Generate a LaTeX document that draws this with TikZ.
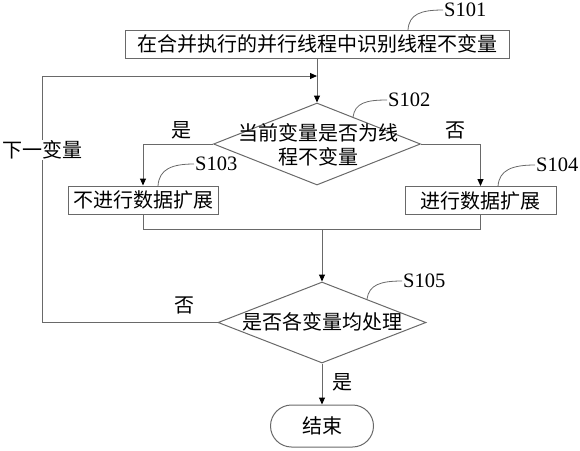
\documentclass[tikz,border=0pt]{standalone}
\usepackage{fontspec}
\setmainfont{Liberation Serif}
\newfontfamily\cjk{Noto Sans CJK SC}
\usetikzlibrary{arrows.meta,shapes.geometric}
\definecolor{lc}{RGB}{105,105,105}
\tikzset{
  box/.style={draw=lc,line width=1pt,rectangle,inner sep=0pt,minimum height=28pt,font=\cjk\fontsize{20}{24}\selectfont},
  dia/.style={draw=lc,line width=1pt,diamond,inner sep=0pt},
  txt/.style={font=\cjk\fontsize{20}{24}\selectfont,inner sep=0pt,align=center},
  steplbl/.style={font=\fontsize{20.5}{22}\selectfont,inner sep=1pt,anchor=west},
  ln/.style={draw=lc,line width=1pt},
  arr/.style={ln,-{Triangle[length=7pt,width=6pt,color=black,fill=black]}},
  lead/.style={draw=lc,line width=0.8pt}
}
\begin{document}
\begin{tikzpicture}[x=1pt,y=-1pt]
\useasboundingbox (0,0) rectangle (580,450);
% nodes
\node[box,minimum width=384pt] (b1) at (317,44) {在合并执行的并行线程中识别线程不变量};
\node[dia,minimum width=207pt,minimum height=82pt] (d1) at (317,144) {};
\node[txt] (d1t) at (318,145) {当前变量是否为线\\程不变量};
\node[box,minimum width=150pt] (b3) at (143,200) {不进行数据扩展};
\node[box,minimum width=151pt] (b4) at (480.5,200.5) {进行数据扩展};
\node[dia,minimum width=208pt,minimum height=81pt] (d2) at (322,322.5) {};
\node[txt] (d2t) at (322,322) {是否各变量均处理};
\node[draw=lc,line width=1pt,rounded corners=21pt,minimum width=103pt,minimum height=42pt,inner sep=0pt,font=\cjk\fontsize{20}{24}\selectfont] (end) at (322,426) {结束};
% step labels
\node[steplbl] (s101) at (443,10) {S101};
\node[steplbl] (s102) at (387,100) {S102};
\node[steplbl] (s103) at (194,164) {S103};
\node[steplbl] (s104) at (535,165) {S104};
\node[steplbl] (s105) at (402,281) {S105};
\coordinate (c101) at (408,30);
\coordinate (c102) at (353,117);
\coordinate (c103) at (158,186);
\coordinate (c104) at (498,186.5);
\coordinate (c105) at (367,299);
\draw[lead] (c101) .. controls (409,14) and (421,10) .. (s101.west);
\draw[lead] (c102) .. controls (355,103) and (366,100) .. (s102.west);
\draw[lead] (c103) .. controls (159,169) and (172,164) .. (s103.west);
\draw[lead] (c104) .. controls (499,170) and (512,165) .. (s104.west);
\draw[lead] (c105) .. controls (369,285) and (380,281) .. (s105.west);
% connectors
\coordinate (jn) at (317,76);
\coordinate (lt) at (42,76);
\coordinate (lb) at (42,322.5);
\coordinate (mg) at (322,229);
\draw[arr] (b1.south) -- (d1.north);
\draw[arr] (d1.west) -| (b3.north);
\draw[arr] (d1.east) -| (b4.north);
\draw[ln] (b3.south) |- (mg);
\draw[ln] (b4.south) |- (mg);
\draw[arr] (mg) -- (d2.north);
\draw[arr] (d2.south) -- (end.north);
\draw[arr] (d2.west) -- (lb) -- (lt) -- (jn);
% branch labels
\node[txt,fill=white,inner sep=1pt] (next) at (42,150) {下一变量};
\node[txt] (yes1) at (181,130) {是};
\node[txt] (no1) at (455,130) {否};
\node[txt] (no2) at (184,305) {否};
\node[txt] (yes2) at (342,382) {是};
\end{tikzpicture}
\end{document}
